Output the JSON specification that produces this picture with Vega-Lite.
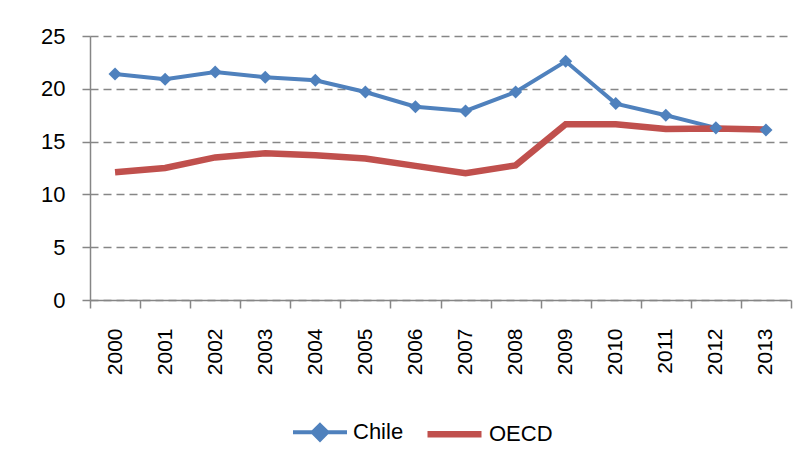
{
  "$schema": "https://vega.github.io/schema/vega-lite/v6.json",
  "width": 701,
  "height": 264,
  "autosize": {"type": "none"},
  "padding": {"left": 90, "top": 36, "right": 16, "bottom": 168},
  "background": "white",
  "config": {
    "view": {"stroke": null},
    "font": "Liberation Sans"
  },
  "data": {
    "values": [
      {"year": "2000", "series": "Chile", "value": 21.4},
      {"year": "2001", "series": "Chile", "value": 20.9},
      {"year": "2002", "series": "Chile", "value": 21.6},
      {"year": "2003", "series": "Chile", "value": 21.1},
      {"year": "2004", "series": "Chile", "value": 20.8},
      {"year": "2005", "series": "Chile", "value": 19.7},
      {"year": "2006", "series": "Chile", "value": 18.3},
      {"year": "2007", "series": "Chile", "value": 17.9},
      {"year": "2008", "series": "Chile", "value": 19.7},
      {"year": "2009", "series": "Chile", "value": 22.6},
      {"year": "2010", "series": "Chile", "value": 18.6},
      {"year": "2011", "series": "Chile", "value": 17.5},
      {"year": "2012", "series": "Chile", "value": 16.3},
      {"year": "2013", "series": "Chile", "value": 16.1},
      {"year": "2000", "series": "OECD", "value": 12.1},
      {"year": "2001", "series": "OECD", "value": 12.5},
      {"year": "2002", "series": "OECD", "value": 13.5},
      {"year": "2003", "series": "OECD", "value": 13.9},
      {"year": "2004", "series": "OECD", "value": 13.7},
      {"year": "2005", "series": "OECD", "value": 13.4},
      {"year": "2006", "series": "OECD", "value": 12.7},
      {"year": "2007", "series": "OECD", "value": 12.0},
      {"year": "2008", "series": "OECD", "value": 12.75},
      {"year": "2009", "series": "OECD", "value": 16.65},
      {"year": "2010", "series": "OECD", "value": 16.65},
      {"year": "2011", "series": "OECD", "value": 16.2},
      {"year": "2012", "series": "OECD", "value": 16.25},
      {"year": "2013", "series": "OECD", "value": 16.15}
    ]
  },
  "encoding": {
    "x": {
      "field": "year",
      "type": "ordinal",
      "scale": {"type": "band", "paddingInner": 0, "paddingOuter": 0},
      "axis": {
        "title": null,
        "labelAngle": -90,
        "labelAlign": "right",
        "labelBaseline": "middle",
        "labelFontSize": 21,
        "labelColor": "black",
        "labelPadding": 20,
        "tickBand": "extent",
        "tickSize": 8,
        "tickColor": "#868686",
        "tickWidth": 1.5,
        "domainColor": "#868686",
        "domainWidth": 1.5,
        "grid": false
      }
    },
    "y": {
      "field": "value",
      "type": "quantitative",
      "scale": {"domain": [0, 25], "nice": false, "zero": true},
      "axis": {
        "title": null,
        "values": [0, 5, 10, 15, 20, 25],
        "labelFontSize": 22,
        "labelColor": "black",
        "labelPadding": 17,
        "tickSize": 8,
        "tickColor": "#868686",
        "tickWidth": 1.5,
        "domainColor": "#868686",
        "domainWidth": 1.5,
        "grid": true,
        "gridColor": "#868686",
        "gridWidth": 1.5,
        "gridDash": [8, 5]
      }
    }
  },
  "layer": [
    {
      "mark": {"type": "line", "strokeJoin": "miter"},
      "encoding": {
        "color": {
          "field": "series",
          "type": "nominal",
          "scale": {"domain": ["Chile", "OECD"], "range": ["#4F81BD", "#C0504D"]},
          "legend": {
            "title": null,
            "orient": "none",
            "direction": "horizontal",
            "legendX": 201,
            "legendY": 367,
            "symbolType": "stroke",
            "symbolSize": 2916,
            "symbolStrokeWidth": 5,
            "labelFontSize": 22,
            "labelColor": "black",
            "labelOffset": 4,
            "columnPadding": 10,
            "encode": {
              "symbols": {
                "update": {
                  "shape": {"signal": "datum.value === 'Chile' ? 'M-1,0L-0.3,0M0.3,0L1,0M0,-0.27L0.27,0L0,0.27L-0.27,0Z' : 'stroke'"},
                  "fill": {"signal": "datum.value === 'Chile' ? '#4F81BD' : 'transparent'"},
                  "strokeWidth": {"signal": "datum.value === 'Chile' ? 4 : 6.5"}
                }
              }
            }
          }
        },
        "strokeWidth": {
          "field": "series",
          "type": "nominal",
          "scale": {"domain": ["Chile", "OECD"], "range": [4, 6.5]},
          "legend": null
        }
      }
    },
    {
      "transform": [{"filter": "datum.series === 'Chile'"}],
      "mark": {"type": "point", "shape": "diamond", "filled": true, "opacity": 1, "size": 170, "color": "#4F81BD"}
    }
  ]
}
